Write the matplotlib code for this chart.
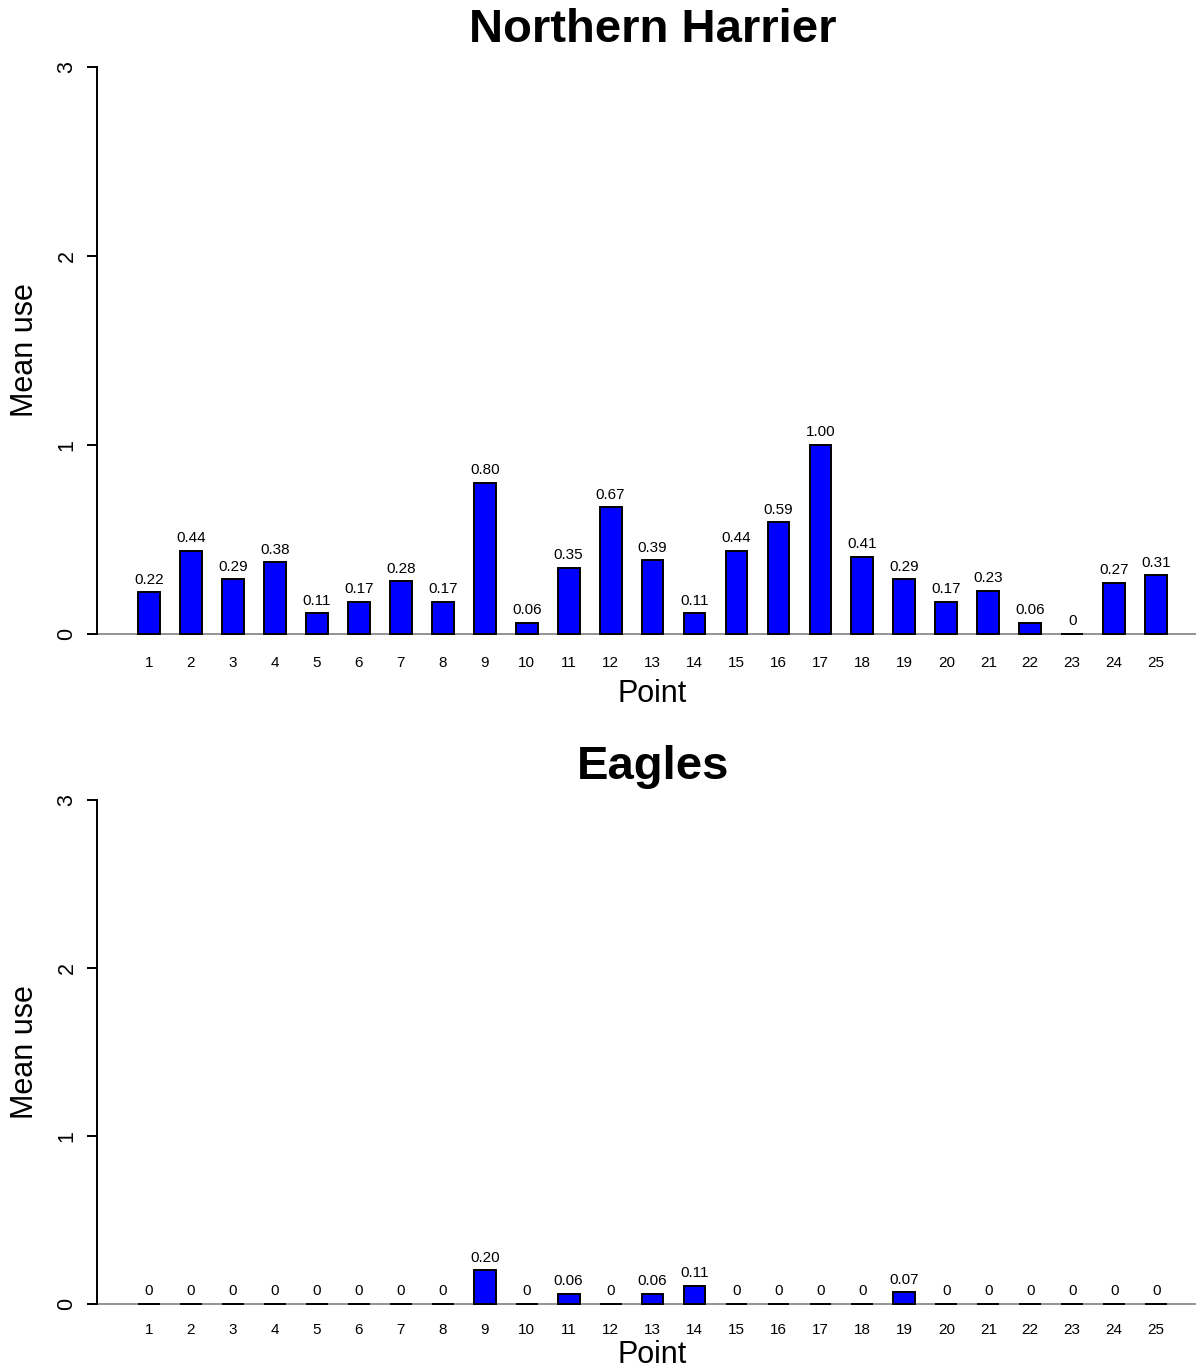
import matplotlib
matplotlib.use('Agg')
import matplotlib.pyplot as plt

# Point numbers and mean use per point
points = list(range(1, 26))
harrier = [0.22, 0.44, 0.29, 0.38, 0.11, 0.17, 0.28, 0.17, 0.80, 0.06,
           0.35, 0.67, 0.39, 0.11, 0.44, 0.59, 1.00, 0.41, 0.29, 0.17,
           0.23, 0.06, 0, 0.27, 0.31]
eagles = [0, 0, 0, 0, 0, 0, 0, 0, 0.20, 0,
          0.06, 0, 0.06, 0.11, 0, 0, 0, 0, 0.07, 0,
          0, 0, 0, 0, 0]
yticks = [0, 1, 2, 3]

plt.rcParams['font.family'] = ['Liberation Sans', 'DejaVu Sans']

W, H = 1196, 1369
fig = plt.figure(figsize=(W / 100, H / 100), dpi=100)


def fmt(v):
    return '0' if v == 0 else f'{v:.2f}'


def panel(rect, values, title, title_y, xpad, xlabel_y, label_off):
    ax = fig.add_axes(rect)
    ax.bar(points, values, width=0.52, color='#0000ff', edgecolor='black',
           linewidth=1.4, clip_on=False, zorder=3)
    ax.axhline(0, color='#808080', linewidth=1.2, zorder=2, clip_on=False)
    for x, v in zip(points, values):
        ax.annotate(fmt(v), (x, v), xytext=(0, label_off), textcoords='offset points',
                    ha='center', va='bottom', fontsize=11)
    ax.set_xlim(-0.24, 25.95)
    ax.set_ylim(0, 3)
    for s in ['top', 'right', 'bottom']:
        ax.spines[s].set_visible(False)
    ax.spines['left'].set_linewidth(1.4)
    ax.set_yticks(yticks)
    ax.set_yticklabels([str(t) for t in yticks], rotation=90, va='center', fontsize=15.5)
    ax.tick_params(axis='y', length=7, width=1.4, pad=7)
    ax.set_xticks(points)
    ax.set_xticklabels([str(p) for p in points], fontsize=11)
    ax.tick_params(axis='x', length=0, pad=xpad)
    ax.set_facecolor('none')
    fig.text(653 / W, 1 - title_y / H, title, ha='center', va='center',
             fontsize=34, fontweight='bold')
    fig.text(652 / W, 1 - xlabel_y / H, 'Point', ha='center', va='center', fontsize=22)
    mid = (rect[1] + rect[3] / 2)
    fig.text(25 / W, mid, 'Mean use', rotation=90, ha='center', va='center', fontsize=22)
    return ax


panel([97 / W, 1 - 634 / H, 1099 / W, (634 - 67) / H], harrier,
      'Northern Harrier', 30, 15.5, 694, 4)
panel([97 / W, 1 - 1304 / H, 1099 / W, (1304 - 800) / H], eagles,
      'Eagles', 767, 13.5, 1355, 4)

fig.savefig('out.png', dpi=100, facecolor='white')
